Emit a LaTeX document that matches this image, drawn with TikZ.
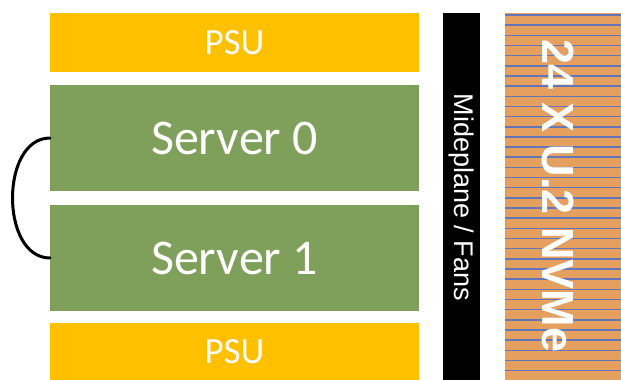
\documentclass[tikz,border=0pt]{standalone}
\usepackage{fontspec}
\setmainfont{Carlito}
\newfontfamily\arialf{Liberation Sans}
\definecolor{psuyellow}{RGB}{255,192,0}
\definecolor{srvgreen}{RGB}{127,160,90}
\definecolor{nvmeorange}{RGB}{229,160,96}
\definecolor{stripeblue}{RGB}{100,118,186}
\tikzset{
  box/.style={draw=none, inner sep=0pt, outer sep=0pt, anchor=north west, text=white, minimum width=369pt},
  psubox/.style={box, fill=psuyellow, font=\fontsize{37}{37}\selectfont},
  srvbox/.style={box, fill=srvgreen, minimum height=106pt, font=\fontsize{50}{50}\selectfont},
  stripe/.style={draw=stripeblue, line width=1.5pt},
  link/.style={draw=black, line width=3pt, line cap=round},
}
\begin{document}
\begin{tikzpicture}[x=1pt,y=-1pt]
\useasboundingbox (0,0) rectangle (621,380);
\fill[white] (0,0) rectangle (621,380);
\node[psubox, minimum height=59pt] (psutop) at (50,13) {PSU};
\node[srvbox] (srv0) at (50,85) {Server 0};
\node[srvbox] (srv1) at (50,205) {Server 1};
\node[psubox, minimum height=57pt] (psubot) at (50,323) {PSU};
\node[box, fill=black, minimum width=37pt, minimum height=367pt] (mid) at (443,13) {};
\node[box, fill=nvmeorange, minimum width=116pt, minimum height=367pt] (nvme) at (505,13) {};
\foreach \k in {0,...,35} {
  \draw[stripe] (505,15+10.16*\k) -- (621,15+10.16*\k);
}
\node[rotate=-90, text=white, inner sep=0pt, font=\arialf\fontsize{27}{27}\selectfont] (midlabel) at (461.5,197.5) {Mideplane / Fans};
\node[rotate=-90, text=white, inner sep=0pt, font=\arialf\bfseries\fontsize{45}{45}\selectfont] (nvmelabel) at (558,196) {24 X U.2 NVMe};
\draw[link] (srv0.west) .. controls +(-50,0) and +(-50,0) .. (srv1.west);
\end{tikzpicture}
\end{document}
